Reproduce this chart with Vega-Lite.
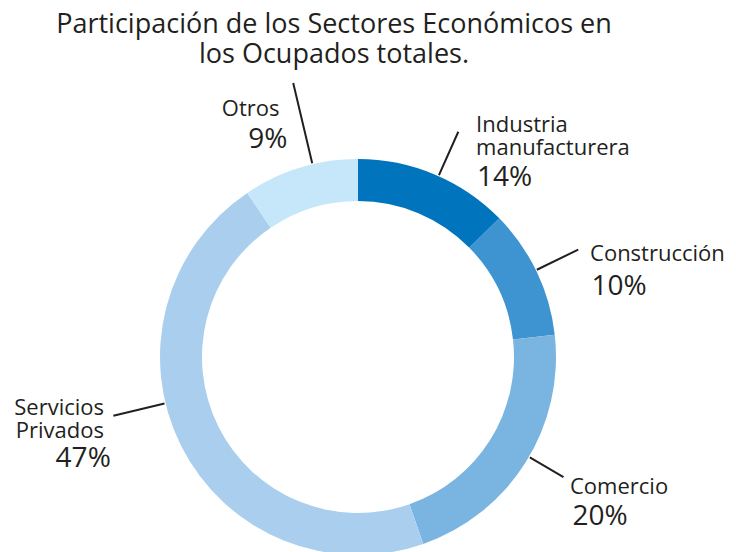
{
  "$schema": "https://vega.github.io/schema/vega-lite/v6.json",
  "width": 716,
  "height": 390,
  "autosize": "none",
  "padding": {"top": 162, "left": 0, "right": 20, "bottom": 0},
  "background": "white",
  "title": {
    "text": ["Participación de los Sectores Económicos en", "los Ocupados totales."],
    "anchor": "middle",
    "frame": "group",
    "dx": -24,
    "offset": 10,
    "font": "Open Sans",
    "fontSize": 27,
    "fontWeight": 400,
    "color": "#231f20",
    "lineHeight": 30
  },
  "data": {
    "values": [
      {"orden": 1, "sector": "Industria manufacturera", "etiqueta": "Industria\nmanufacturera", "pct": "14%", "valor": 12.65},
      {"orden": 2, "sector": "Construcción", "etiqueta": "Construcción", "pct": "10%", "valor": 10.55},
      {"orden": 3, "sector": "Comercio", "etiqueta": "Comercio", "pct": "20%", "valor": 21.45},
      {"orden": 4, "sector": "Servicios Privados", "etiqueta": "Servicios\nPrivados", "pct": "47%", "valor": 45.9},
      {"orden": 5, "sector": "Otros", "etiqueta": "Otros", "pct": "9%", "valor": 9.45}
    ]
  },
  "transform": [
    {"stack": "valor", "groupby": [], "sort": [{"field": "orden", "order": "ascending"}], "as": ["t0", "t1"]}
  ],
  "layer": [
    {
      "mark": {"type": "arc", "radius": 198, "radius2": 156},
      "encoding": {
        "theta": {"field": "t0", "type": "quantitative", "scale": {"domain": [0, 100], "range": [0, 6.283185307179586]}},
        "theta2": {"field": "t1"},
        "color": {
          "field": "sector", "type": "nominal", "legend": null,
          "scale": {
            "domain": ["Industria manufacturera", "Construcción", "Comercio", "Servicios Privados", "Otros"],
            "range": ["#0075bd", "#3e93d1", "#7ab4e1", "#aacfee", "#c5e7f9"]
          }
        }
      }
    },
    {
      "transform": [{"filter": "datum.orden === 1"}],
      "mark": {"type": "arc", "radius": 246.6, "radius2": 199, "thetaOffset": 0.4189, "theta2Offset": 0.4189, "filled": false, "stroke": "#231f20", "strokeWidth": 2},
      "encoding": {"theta": {"field": "t0", "type": "quantitative"}, "theta2": {"field": "t0"}}
    },
    {
      "transform": [{"filter": "datum.orden === 2"}],
      "mark": {"type": "arc", "radius": 245, "radius2": 199, "thetaOffset": 0.3222, "theta2Offset": 0.3222, "filled": false, "stroke": "#231f20", "strokeWidth": 2},
      "encoding": {"theta": {"field": "t0", "type": "quantitative"}, "theta2": {"field": "t0"}}
    },
    {
      "transform": [{"filter": "datum.orden === 3"}],
      "mark": {"type": "arc", "radius": 238, "radius2": 199, "thetaOffset": 0.6419, "theta2Offset": 0.6419, "filled": false, "stroke": "#231f20", "strokeWidth": 2},
      "encoding": {"theta": {"field": "t0", "type": "quantitative"}, "theta2": {"field": "t0"}}
    },
    {
      "transform": [{"filter": "datum.orden === 4"}],
      "mark": {"type": "arc", "radius": 251.6, "radius2": 199, "thetaOffset": 1.6713, "theta2Offset": 1.6713, "filled": false, "stroke": "#231f20", "strokeWidth": 2},
      "encoding": {"theta": {"field": "t0", "type": "quantitative"}, "theta2": {"field": "t0"}}
    },
    {
      "transform": [{"filter": "datum.orden === 5"}],
      "mark": {"type": "arc", "radius": 281.6, "radius2": 199, "thetaOffset": 0.3616, "theta2Offset": 0.3616, "filled": false, "stroke": "#231f20", "strokeWidth": 2},
      "encoding": {"theta": {"field": "t0", "type": "quantitative"}, "theta2": {"field": "t0"}}
    },
    {
      "transform": [{"filter": "datum.orden === 1"}],
      "mark": {"type": "text", "radius": 253.8, "thetaOffset": 0.4840, "align": "left", "baseline": "alphabetic", "font": "Open Sans", "fontWeight": 400, "fontSize": 22, "lineHeight": 23, "lineBreak": "\n", "color": "#231f20"},
      "encoding": {"theta": {"field": "t0", "type": "quantitative"}, "text": {"field": "etiqueta"}}
    },
    {
      "transform": [{"filter": "datum.orden === 1"}],
      "mark": {"type": "text", "radius": 208.6, "thetaOffset": 0.6070, "align": "left", "baseline": "alphabetic", "font": "Open Sans", "fontWeight": 400, "fontSize": 28, "color": "#231f20"},
      "encoding": {"theta": {"field": "t0", "type": "quantitative"}, "text": {"field": "pct"}}
    },
    {
      "transform": [{"filter": "datum.orden === 2"}],
      "mark": {"type": "text", "radius": 251.1, "thetaOffset": 0.3838, "align": "left", "baseline": "alphabetic", "font": "Open Sans", "fontWeight": 400, "fontSize": 22, "color": "#231f20"},
      "encoding": {"theta": {"field": "t0", "type": "quantitative"}, "text": {"field": "etiqueta"}}
    },
    {
      "transform": [{"filter": "datum.orden === 2"}],
      "mark": {"type": "text", "radius": 241.5, "thetaOffset": 0.5184, "align": "left", "baseline": "alphabetic", "font": "Open Sans", "fontWeight": 400, "fontSize": 28, "color": "#231f20"},
      "encoding": {"theta": {"field": "t0", "type": "quantitative"}, "text": {"field": "pct"}}
    },
    {
      "transform": [{"filter": "datum.orden === 3"}],
      "mark": {"type": "text", "radius": 252.4, "thetaOffset": 0.6868, "align": "left", "baseline": "alphabetic", "font": "Open Sans", "fontWeight": 400, "fontSize": 22, "color": "#231f20"},
      "encoding": {"theta": {"field": "t0", "type": "quantitative"}, "text": {"field": "etiqueta"}}
    },
    {
      "transform": [{"filter": "datum.orden === 3"}],
      "mark": {"type": "text", "radius": 272.6, "thetaOffset": 0.7784, "align": "left", "baseline": "alphabetic", "font": "Open Sans", "fontWeight": 400, "fontSize": 28, "color": "#231f20"},
      "encoding": {"theta": {"field": "t0", "type": "quantitative"}, "text": {"field": "pct"}}
    },
    {
      "transform": [{"filter": "datum.orden === 4"}],
      "mark": {"type": "text", "radius": 260.6, "thetaOffset": 1.6813, "align": "right", "baseline": "alphabetic", "font": "Open Sans", "fontWeight": 400, "fontSize": 22, "lineHeight": 23, "lineBreak": "\n", "color": "#231f20"},
      "encoding": {"theta": {"field": "t0", "type": "quantitative"}, "text": {"field": "etiqueta"}}
    },
    {
      "transform": [{"filter": "datum.orden === 4"}],
      "mark": {"type": "text", "radius": 270.5, "thetaOffset": 1.4890, "align": "right", "baseline": "alphabetic", "font": "Open Sans", "fontWeight": 400, "fontSize": 28, "color": "#231f20"},
      "encoding": {"theta": {"field": "t0", "type": "quantitative"}, "text": {"field": "pct"}}
    },
    {
      "transform": [{"filter": "datum.orden === 5"}],
      "mark": {"type": "text", "radius": 253.7, "thetaOffset": 0.2793, "align": "right", "baseline": "alphabetic", "font": "Open Sans", "fontWeight": 400, "fontSize": 22, "color": "#231f20"},
      "encoding": {"theta": {"field": "t0", "type": "quantitative"}, "text": {"field": "etiqueta"}}
    },
    {
      "transform": [{"filter": "datum.orden === 5"}],
      "mark": {"type": "text", "radius": 220.3, "thetaOffset": 0.2679, "align": "right", "baseline": "alphabetic", "font": "Open Sans", "fontWeight": 400, "fontSize": 28, "color": "#231f20"},
      "encoding": {"theta": {"field": "t0", "type": "quantitative"}, "text": {"field": "pct"}}
    }
  ]
}
